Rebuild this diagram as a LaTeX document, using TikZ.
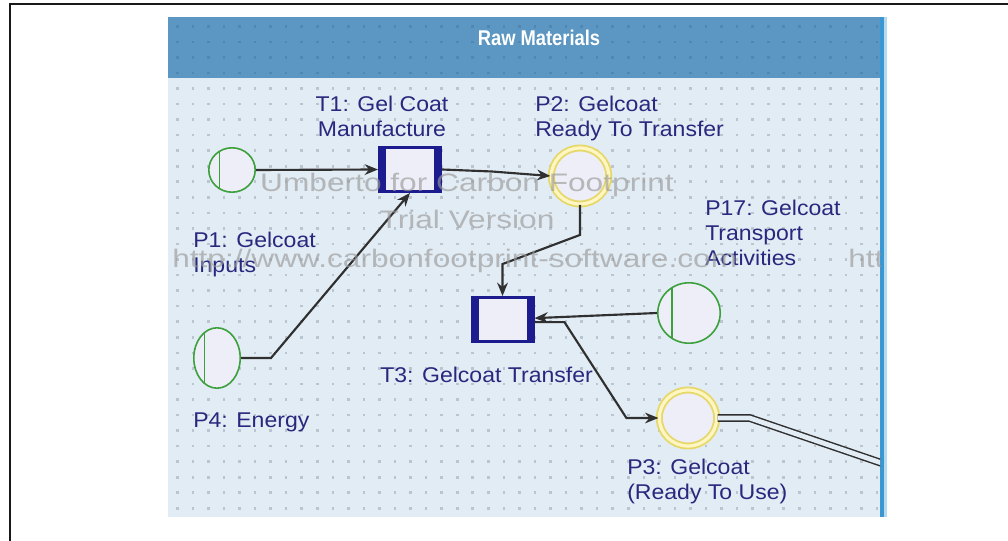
\documentclass[tikz,border=0pt]{standalone}
\usepackage{fontspec}
\setmainfont{Liberation Sans}
\newfontfamily\labfont[FakeStretch=1.08]{Liberation Sans}
\newfontfamily\wmfont[FakeStretch=1.25]{Liberation Sans}
\newfontfamily\titlefont[FakeStretch=0.86]{Liberation Sans}
\usetikzlibrary{shapes.geometric,arrows.meta,calc}
\definecolor{hdr}{HTML}{5C96C2}
\definecolor{body}{HTML}{E2ECF4}
\definecolor{hdrdot}{HTML}{4F86B2}
\definecolor{bodydot}{HTML}{BAC5CF}
\definecolor{edgeblue}{HTML}{3C96CF}
\definecolor{edgelight}{HTML}{B4DAF0}
\definecolor{navy}{HTML}{1C1C8E}
\definecolor{nodefill}{HTML}{EEEEF8}
\definecolor{pgreen}{HTML}{3CA03C}
\definecolor{pyellow}{HTML}{E6D86A}
\definecolor{pyellowin}{HTML}{FFF6C4}
\definecolor{labcol}{HTML}{28287E}
\definecolor{edgecol}{HTML}{303030}
\definecolor{wmcol}{HTML}{9A9A9A}
\begin{document}
\begin{tikzpicture}[x=0.75pt,y=-0.75pt,
  trans/.style={rectangle, draw=navy, line width=2pt, fill=nodefill,
    minimum width=46pt, minimum height=33.2pt, inner sep=0pt,
    path picture={
      \fill[navy] (path picture bounding box.south west) rectangle ([xshift=5pt]path picture bounding box.north west);
      \fill[navy] (path picture bounding box.south east) rectangle ([xshift=-5pt]path picture bounding box.north east);}},
  inplace/.style={ellipse, draw=pgreen, line width=1.2pt, fill=nodefill, inner sep=0pt,
    path picture={
      \draw[pgreen, line width=1.2pt]
        ($(path picture bounding box.south west)!0.23!(path picture bounding box.south east)$) --
        ($(path picture bounding box.north west)!0.23!(path picture bounding box.north east)$);}},
  ready/.style={ellipse, draw=pyellow, line width=1.4pt, double=pyellowin, double distance=2.4pt,
    fill=nodefill, inner sep=0pt, minimum width=43pt, minimum height=42pt},
  arr/.style={draw=edgecol, line width=1.6pt, -{Stealth[length=10pt,width=8pt]}},
  lab/.style={font=\labfont\fontsize{16}{18.75}\selectfont, text=labcol, align=left, inner sep=0pt},
  wm/.style={font=\wmfont\fontsize{19}{22}\selectfont, text=wmcol, opacity=0.65, inner sep=0pt}
]
\useasboundingbox (0,0) rectangle (1008,541);
\fill[white] (0,0) rectangle (1008,541);
\draw[line width=1.6pt, draw=black!90] (10,541) -- (10,4) -- (1008,4);
% panel
\fill[body] (168,17) rectangle (880,517);
\fill[hdr] (168,17) rectangle (880,78);
\foreach \i in {0,...,45}{
  \foreach \j in {0,...,3}{\fill[hdrdot] (176+\i*15.55,25+\j*15.55) rectangle ++(2.6,2.6);}
  \foreach \j in {4,...,31}{\fill[bodydot] (176+\i*15.55,25+\j*15.55) rectangle ++(2.6,2.6);}
}
\fill[edgeblue] (880,17) rectangle (884,517);
\fill[edgelight] (884,17) rectangle (887,517);
\node[font=\titlefont\bfseries\fontsize{16}{18}\selectfont, text=white, inner sep=0pt] (title) at (539,38) {Raw Materials};
% nodes
\node[inplace, minimum width=34.8pt, minimum height=33.3pt] (p1) at (232,170) {};
\node[inplace, minimum width=34.8pt, minimum height=45.3pt] (p4) at (217,358) {};
\node[inplace, minimum width=46.8pt, minimum height=45.3pt] (p17) at (689,313) {};
\node[trans] (t1) at (410,169.5) {};
\node[trans] (t3) at (502.5,319.5) {};
\node[ready] (p2) at (580,176) {};
\node[ready] (p3) at (688,418) {};
% edges
\draw[arr] (p1.east) -- (t1.west);
\draw[arr] (p4.east) -- ++(30,0) -- (t1.south);
\draw[arr] (t1.east) -- ++(50,2) -- (p2.west);
\draw[arr] (p2.south) -- ++(0,30) -- ([yshift=24pt]t3.north) -- (t3.north);
\draw[arr] (p17.west) -- ([yshift=1pt]t3.east);
\draw[arr] ([yshift=-2pt]t3.east) -- ++(30,0) -- ([xshift=-24pt]p3.west) -- (p3.west);
\coordinate (out) at (905,471);
\begin{scope}
\clip (168,17) rectangle (880,517);
\draw[draw=edgecol, line width=1.1pt, double=body, double distance=3.6pt] (p3.east) -- ++(32,0) -- (out);
\end{scope}
% labels
\node[lab, anchor=north west] (lp1) at (193,232) {P1: Gelcoat\\Inputs};
\node[lab, anchor=north, align=center] (lt1) at (382,96) {T1: Gel Coat\\Manufacture};
\node[lab, anchor=north west] (lp2) at (535,96) {P2: Gelcoat\\Ready To Transfer};
\node[lab, anchor=north west] (lp17) at (705,200) {P17: Gelcoat\\Transport\\Activities};
\node[lab, anchor=north west] (lt3) at (380,367) {T3: Gelcoat Transfer};
\node[lab, anchor=north west] (lp4) at (193,413) {P4: Energy};
\node[lab, anchor=north west] (lp3) at (627,459) {P3: Gelcoat\\(Ready To Use)};
% watermark
\begin{scope}
\clip (168,17) rectangle (880,517);
\node[wm] (wm1) at (467,185) {Umberto for Carbon Footprint};
\node[wm] (wm2) at (467,219) {Trial Version};
\node[wm, anchor=west] (wm3) at (172,261) {http://www.carbonfootprint-software.com};
\node[wm, anchor=west] (wm4) at (848,261) {http};
\end{scope}
\end{tikzpicture}
\end{document}
